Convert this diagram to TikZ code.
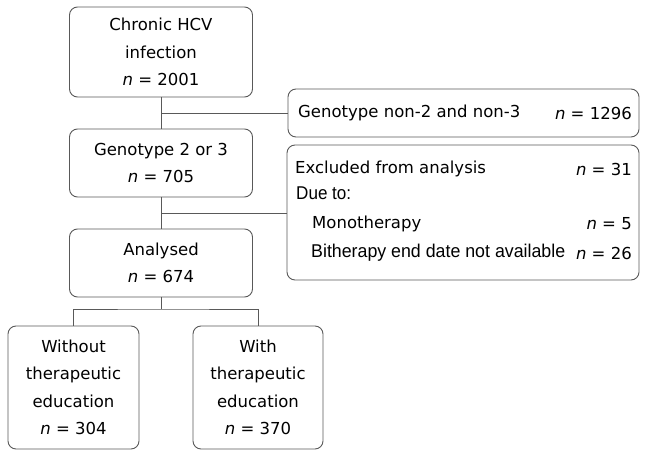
\documentclass[tikz,border=0pt]{standalone}
\usepackage{fontspec}
\usepackage{graphicx}
\setmainfont{DejaVu Sans}
\newfontfamily\narrowfont{Liberation Sans}
\begin{document}
\begin{tikzpicture}[x=1pt,y=-1pt,
  box/.style={draw=black!65,line width=0.9pt,rounded corners=8pt,inner sep=0pt,align=center,
     font=\fontsize{16.5}{27.5}\selectfont},
  lbl/.style={inner sep=0pt,font=\fontsize{16.5}{20}\selectfont},
  nlbl/.style={lbl,anchor=east},
  narrow/.style={inner sep=0pt,anchor=west,font=\narrowfont\fontsize{18.5}{20}\selectfont},
  conn/.style={draw=black!65,line width=0.9pt}]
\useasboundingbox (0,0) rectangle (647,457);
\newcommand{\nn}{\textit{n}}
\node[box,minimum width=183pt,minimum height=90pt] (chronic) at (161,52) {Chronic HCV\\infection\\\nn{} = 2001};
\node[box,minimum width=351pt,minimum height=48pt] (nongeno) at (463.5,113) {};
\node[lbl,anchor=west] (nongenot) at (298,113) {Genotype non-2 and non-3};
\node[nlbl] (nongenon) at (632,113) {\nn{} = 1296};
\node[box,minimum width=183pt,minimum height=68pt] (geno) at (161,163) {Genotype 2 or 3\\\nn{} = 705};
\node[box,minimum width=352pt,minimum height=135pt] (excl) at (463,212.5) {};
\node[lbl,anchor=west] (exclt) at (295,169) {Excluded from analysis};
\node[nlbl] (excln) at (632,169) {\nn{} = 31};
\node[narrow] (due) at (296,193) {\resizebox{55pt}{\height}{Due to:}};
\node[lbl,anchor=west] (mono) at (312,224) {Monotherapy};
\node[nlbl] (monon) at (632,224) {\nn{} = 5};
\node[narrow] (bith) at (311,253) {\resizebox{254pt}{\height}{Bitherapy end date not available}};
\node[nlbl] (bithn) at (632,253) {\nn{} = 26};
\node[box,minimum width=183pt,minimum height=68pt] (anal) at (161,263) {Analysed\\\nn{} = 674};
\node[box,minimum width=131pt,minimum height=123pt] (without) at (73.5,387.5) {Without\\therapeutic\\education\\\nn{} = 304};
\node[box,minimum width=130pt,minimum height=123pt] (with) at (258,387.5) {With\\therapeutic\\education\\\nn{} = 370};
\coordinate (j1) at (chronic.south |- nongeno.west);
\coordinate (j2) at (161,213);
\coordinate (j3) at (161,309);
\draw[conn] (chronic.south) -- (geno.north);
\draw[conn] (j1) -- (nongeno.west);
\draw[conn] (geno.south) -- (anal.north);
\draw[conn] (j2) -- (j2 -| excl.west);
\draw[conn] (anal.south) -- (j3);
\draw[conn] (without.north) |- (j3) -| (with.north);
\end{tikzpicture}
\end{document}
